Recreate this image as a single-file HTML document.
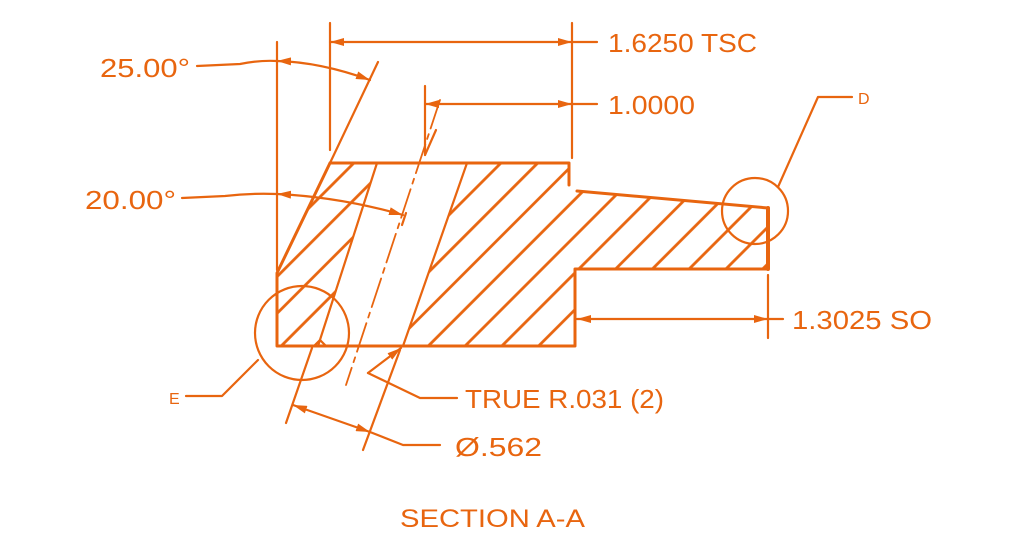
<!DOCTYPE html>
<html><head><style>
html,body{margin:0;padding:0;background:#fff;}
svg{display:block}
text{font-family:"Liberation Sans",sans-serif;fill:#e8650f}
</style></head><body>
<svg width="1014" height="546" viewBox="0 0 1014 546" xmlns="http://www.w3.org/2000/svg">
<defs>
<pattern id="h" patternUnits="userSpaceOnUse" width="26" height="26" patternTransform="rotate(45)">
<line x1="1.5" y1="0" x2="1.5" y2="26" stroke="#e8650f" stroke-width="2.8"/>
</pattern>
<marker id="a" markerWidth="14" markerHeight="8" refX="14" refY="4" orient="auto-start-reverse" markerUnits="userSpaceOnUse">
<path d="M0,0 L14,4 L0,8 z" fill="#e8650f"/>
</marker>
</defs>
<g stroke="#e8650f" fill="none" stroke-width="2.2" stroke-linecap="round" stroke-linejoin="round">
<polygon points="330,163 377,163 318,346 277,346 277,273" fill="url(#h)" stroke="none"/>
<polygon points="467,163 569,163 569,185 577,191 768,208 768,269 575,269 575,346 403,346" fill="url(#h)" stroke="none"/>
<path d="M330,163 L569,163 L569,185 M577,191 L768,208 L768,269 L575,269 L575,346 L277,346 L277,273 L330,163" stroke-width="3"/>
<line x1="768" y1="208" x2="768" y2="269" stroke-width="4"/>
<line x1="377" y1="163" x2="318" y2="346"/>
<line x1="467" y1="163" x2="403" y2="346"/>
<path d="M314,346 L320,340 L326,346"/>
<line x1="440" y1="100" x2="346" y2="385" stroke-width="1.8" stroke-dasharray="30,6,5,6"/>
<line x1="330" y1="163" x2="378" y2="62"/>
<line x1="277" y1="42" x2="277" y2="270"/>
<path d="M197,66 L240,64 Q260,60 277,61"/>
<path d="M277,61 Q320,62 370,80" marker-start="url(#a)" marker-end="url(#a)"/>
<path d="M182,198 L225,196 Q250,193 277,194"/>
<path d="M277,194 Q340,197 403,215" marker-start="url(#a)" marker-end="url(#a)"/>
<line x1="406" y1="213" x2="402" y2="225"/>
<line x1="330" y1="23" x2="330" y2="150"/>
<line x1="572" y1="23" x2="572" y2="158"/>
<line x1="330" y1="42" x2="572" y2="42" marker-start="url(#a)" marker-end="url(#a)"/>
<line x1="572" y1="42" x2="597" y2="42"/>
<line x1="425" y1="86" x2="425" y2="155"/>
<line x1="436" y1="130" x2="425" y2="155"/>
<line x1="425" y1="104" x2="572" y2="104" marker-start="url(#a)" marker-end="url(#a)"/>
<line x1="572" y1="104" x2="597" y2="104"/>
<circle cx="755" cy="211" r="33"/>
<path d="M778,187 L818,97 L852,97"/>
<circle cx="302" cy="333" r="47"/>
<path d="M258,360 L222,396 L186,396"/>
<line x1="768" y1="275" x2="768" y2="338"/>
<line x1="577" y1="319" x2="768" y2="319" marker-start="url(#a)" marker-end="url(#a)"/>
<line x1="768" y1="319" x2="783" y2="319"/>
<line x1="368" y1="373" x2="401" y2="348" marker-end="url(#a)"/>
<path d="M368,373 L420,398 L457,398"/>
<line x1="312" y1="348" x2="286" y2="423"/>
<line x1="400" y1="350" x2="363" y2="450"/>
<line x1="293" y1="405" x2="370" y2="432" marker-start="url(#a)" marker-end="url(#a)"/>
<path d="M370,432 L403,445 L440,445"/>
</g>
<g font-size="26">
<text x="100" y="77" textLength="90" lengthAdjust="spacingAndGlyphs">25.00°</text>
<text x="85" y="209" textLength="91" lengthAdjust="spacingAndGlyphs">20.00°</text>
<text x="608" y="52" textLength="149" lengthAdjust="spacingAndGlyphs">1.6250 TSC</text>
<text x="608" y="114" textLength="87" lengthAdjust="spacingAndGlyphs">1.0000</text>
<text x="792" y="329" textLength="140" lengthAdjust="spacingAndGlyphs">1.3025 SO</text>
<text x="465" y="408" textLength="199" lengthAdjust="spacingAndGlyphs">TRUE R.031 (2)</text>
<text x="455" y="456" textLength="87" lengthAdjust="spacingAndGlyphs">Ø.562</text>
<text x="400" y="527" font-size="25" textLength="185" lengthAdjust="spacingAndGlyphs">SECTION A-A</text>
</g>
<text x="858" y="104" font-size="16">D</text>
<text x="169" y="404" font-size="16">E</text>
</svg>
</body></html>
